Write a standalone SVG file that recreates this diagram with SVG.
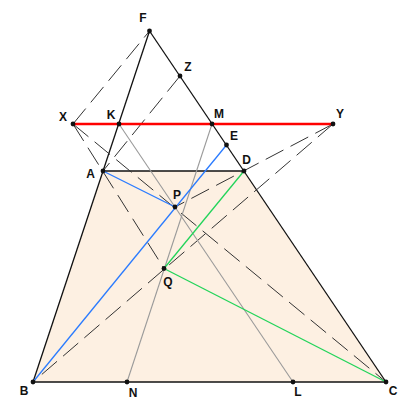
<svg xmlns="http://www.w3.org/2000/svg" width="414" height="416" viewBox="0 0 414 416">
<style>
.solid{stroke:#111;stroke-width:1.3;fill:none}
.dash{stroke:#333;stroke-width:1;fill:none;stroke-dasharray:20 8}
.gray{stroke:#9a9a9a;stroke-width:1.1;fill:none}
.blue{stroke:#2a7bff;stroke-width:1.3;fill:none}
.green{stroke:#22d45a;stroke-width:1.3;fill:none}
.red{stroke:#ff0000;stroke-width:2.6;fill:none}
.pt{fill:#111}
.lbl{font-family:"Liberation Sans",Arial,sans-serif;font-size:12px;font-weight:bold;fill:#111;text-anchor:middle}
</style>
<rect width="414" height="416" fill="#ffffff"/>
<polygon id="trapezoid" points="103,171 244,171 386,382 33,382" fill="#fdf0e2" stroke="none"/>
<g id="connectors">
<line class="solid" x1="149.5" y1="31" x2="33" y2="382"/>
<line class="solid" x1="149.5" y1="31" x2="386" y2="382"/>
<line class="solid" x1="103" y1="171" x2="244" y2="171"/>
<line class="solid" x1="33" y1="382" x2="386" y2="382"/>
<line class="dash" x1="73" y1="124" x2="149.5" y2="31"/>
<line class="dash" x1="180" y1="76" x2="103" y2="171"/>
<line class="dash" x1="73" y1="124" x2="164" y2="268.5"/>
<line class="dash" x1="73" y1="124" x2="386" y2="382"/>
<line class="dash" x1="333" y1="124" x2="175" y2="207"/>
<line class="dash" x1="333" y1="124" x2="33" y2="382"/>
<line class="gray" x1="119" y1="124" x2="293" y2="382"/>
<line class="gray" x1="212" y1="124" x2="127" y2="382"/>
<line class="blue" x1="33" y1="382" x2="226.5" y2="145"/>
<line class="blue" x1="103" y1="171" x2="175" y2="207"/>
<line class="green" x1="244" y1="171" x2="164" y2="268.5"/>
<line class="green" x1="164" y1="268.5" x2="386" y2="382"/>
<line class="red" x1="73" y1="124" x2="333" y2="124"/>
</g>
<g id="F"><circle class="pt" cx="149.5" cy="31" r="2.4"/><text class="lbl" x="143" y="22">F</text></g>
<g id="Z"><circle class="pt" cx="180" cy="76" r="2.4"/><text class="lbl" x="188" y="71">Z</text></g>
<g id="X"><circle class="pt" cx="73" cy="124" r="2.4"/><text class="lbl" x="63" y="121">X</text></g>
<g id="K"><circle class="pt" cx="119" cy="124" r="2.4"/><text class="lbl" x="111" y="119">K</text></g>
<g id="M"><circle class="pt" cx="212" cy="124" r="2.4"/><text class="lbl" x="219" y="118">M</text></g>
<g id="Y"><circle class="pt" cx="333" cy="124" r="2.4"/><text class="lbl" x="340" y="118">Y</text></g>
<g id="E"><circle class="pt" cx="226.5" cy="145" r="2.4"/><text class="lbl" x="234" y="140">E</text></g>
<g id="D"><circle class="pt" cx="244" cy="171" r="2.4"/><text class="lbl" x="246.5" y="164">D</text></g>
<g id="A"><circle class="pt" cx="103" cy="171" r="2.4"/><text class="lbl" x="90.5" y="178">A</text></g>
<g id="P"><circle class="pt" cx="175" cy="207" r="2.4"/><text class="lbl" x="177" y="199">P</text></g>
<g id="Q"><circle class="pt" cx="164" cy="268.5" r="2.4"/><text class="lbl" x="168" y="286">Q</text></g>
<g id="B"><circle class="pt" cx="33" cy="382" r="2.4"/><text class="lbl" x="24" y="395">B</text></g>
<g id="N"><circle class="pt" cx="127" cy="382" r="2.4"/><text class="lbl" x="133" y="397">N</text></g>
<g id="L"><circle class="pt" cx="293" cy="382" r="2.4"/><text class="lbl" x="298" y="396">L</text></g>
<g id="C"><circle class="pt" cx="386" cy="382" r="2.4"/><text class="lbl" x="393" y="395">C</text></g>
</svg>
